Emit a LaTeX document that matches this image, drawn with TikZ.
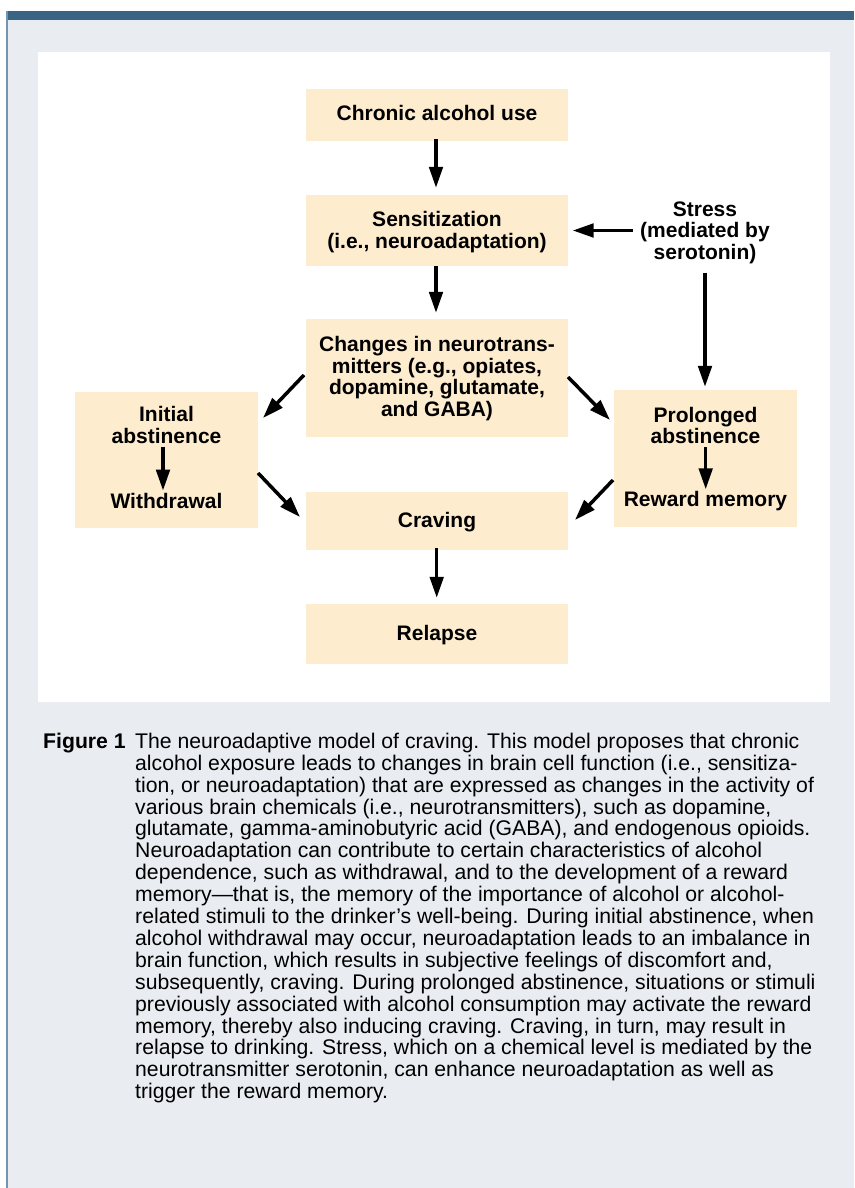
\documentclass[tikz,border=0pt]{standalone}
\usepackage{fontspec}
\setmainfont{Liberation Sans}
\usetikzlibrary{arrows.meta}
\definecolor{barblue}{RGB}{58,100,132}
\definecolor{edgeblue}{RGB}{116,148,176}
\definecolor{panelgray}{RGB}{233,236,241}
\definecolor{boxfill}{RGB}{253,236,206}
\begin{document}
\begin{tikzpicture}[x=1pt,y=-1pt,
  box/.style={fill=boxfill, draw=none, inner sep=0pt},
  lbl/.style={font=\fontsize{21}{21.5}\selectfont\bfseries, align=center, inner sep=0pt, anchor=base},
  arr/.style={line width=3.5pt, -{Triangle[length=21pt,width=13.5pt]}},
  captxt/.style={font=\fontsize{21.2}{21.9}\selectfont, align=left, inner sep=0pt, anchor=base west},
  capbold/.style={font=\fontsize{21.2}{21.9}\selectfont\bfseries, inner sep=0pt, anchor=base west}
]
\useasboundingbox (0,0) rectangle (854,1188);
\fill[white] (0,0) rectangle (854,1188);
\fill[panelgray] (6,11) rectangle (854,1188);
\fill[barblue] (6,11) rectangle (854,20);
\fill[edgeblue] (6,11) rectangle (8,1188);
\fill[white] (38,52) rectangle (830,702);

% boxes
\node[box, minimum width=262pt, minimum height=52pt] (chronicbox) at (437,115) {};
\node[box, minimum width=262pt, minimum height=71pt] (sensbox) at (437,230.5) {};
\node[box, minimum width=262pt, minimum height=118pt] (changebox) at (437,378) {};
\node[box, minimum width=183pt, minimum height=136pt] (initbox) at (166.5,460) {};
\node[box, minimum width=262pt, minimum height=58pt] (cravebox) at (437,521) {};
\node[box, minimum width=262pt, minimum height=60pt] (relapsebox) at (437,634) {};
\node[box, minimum width=183pt, minimum height=137pt] (prolbox) at (705.5,458.5) {};

% texts (base anchor = baseline of the last line)
\node[lbl] (chronic) at (437,120.7) {Chronic alcohol use};
\node[lbl] (sens) at (437,248.2) {Sensitization\\(i.e., neuroadaptation)};
\node[lbl] (stress) at (705,259) {Stress\\(mediated by\\serotonin)};
\node[lbl] (changes) at (437,416.2) {Changes in neurotrans-\\mitters (e.g., opiates,\\dopamine, glutamate,\\and GABA)};
\node[lbl] (initA) at (166.5,443.2) {Initial\\abstinence};
\node[lbl] (withd) at (166.5,508) {Withdrawal};
\node[lbl] (prolA) at (705.5,443.8) {Prolonged\\abstinence};
\node[lbl] (reward) at (705.5,506.7) {Reward memory};
\node[lbl] (craving) at (437,527.5) {Craving};
\node[lbl] (relapse) at (437,640) {Relapse};

% arrow end points
\coordinate (c2iS) at (304,375);
\coordinate (c2iE) at (263,418);
\coordinate (i2cS) at (258,473);
\coordinate (i2cE) at (300,517);
\coordinate (c2pS) at (568,377);
\coordinate (c2pE) at (610,420);
\coordinate (p2cS) at (613,480);
\coordinate (p2cE) at (575,520);

% arrows
\draw[arr, shorten <=-2pt, shorten >=7pt] (chronicbox.south -| 436,0) -- (sensbox.north -| 436,0);
\draw[arr, shorten >=6pt] (sensbox.south -| 436,0) -- (changebox.north -| 436,0);
\draw[arr, shorten <=7pt, shorten >=4.5pt] (stress.west |- sensbox.east) -- (sensbox.east);
\draw[arr, shorten <=9pt, shorten >=3pt] (stress.south) -- (prolbox.north -| stress.south);
\draw[arr] (c2iS) -- (c2iE);
\draw[arr] (i2cS) -- (i2cE);
\draw[arr] (c2pS) -- (c2pE);
\draw[arr] (p2cS) -- (p2cE);
\draw[arr, shorten <=-2pt, shorten >=6pt] (cravebox.south -| 436.7,0) -- (relapsebox.north -| 436.7,0);
\draw[arr, shorten <=3pt, shorten >=2pt] (initA.south -| 163,0) -- (withd.north -| 163,0);
\draw[arr, shorten <=3pt, shorten >=2pt] (prolA.south -| 705.7,0) -- (reward.north -| 705.7,0);

% caption
\node[capbold] (figlabel) at (43,748.3) {Figure 1};
\node[captxt] (captext) at (135,1098.7) {The neuroadaptive model of craving. This model proposes that chronic\\
alcohol exposure leads to changes in brain cell function (i.e., sensitiza-\\
tion, or neuroadaptation) that are expressed as changes in the activity of\\
various brain chemicals (i.e., neurotransmitters), such as dopamine,\\
glutamate, gamma-aminobutyric acid (GABA), and endogenous opioids.\\
Neuroadaptation can contribute to certain characteristics of alcohol\\
dependence, such as withdrawal, and to the development of a reward\\
memory—that is, the memory of the importance of alcohol or alcohol-\\
related stimuli to the drinker’s well-being. During initial abstinence, when\\
alcohol withdrawal may occur, neuroadaptation leads to an imbalance in\\
brain function, which results in subjective feelings of discomfort and,\\
subsequently, craving. During prolonged abstinence, situations or stimuli\\
previously associated with alcohol consumption may activate the reward\\
memory, thereby also inducing craving. Craving, in turn, may result in\\
relapse to drinking. Stress, which on a chemical level is mediated by the\\
neurotransmitter serotonin, can enhance neuroadaptation as well as\\
trigger the reward memory.};
\end{tikzpicture}
\end{document}
